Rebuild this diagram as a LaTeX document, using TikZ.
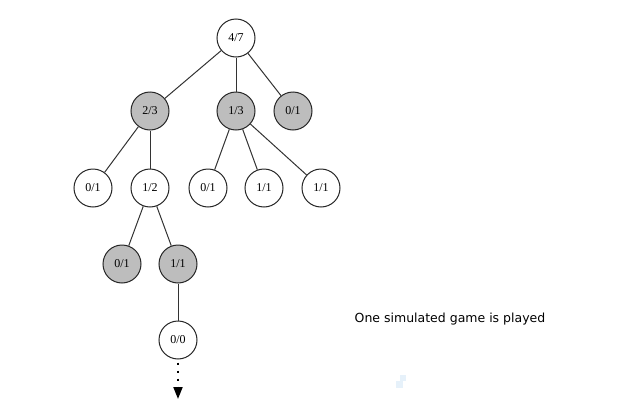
\documentclass[tikz,border=0pt]{standalone}
\usepackage{fontspec}
\setmainfont{Liberation Serif}
\newfontfamily\capfont{DejaVu Sans}
\usetikzlibrary{arrows.meta}
\definecolor{nodegray}{HTML}{BDBDBD}
\definecolor{faintblue}{HTML}{E6F1FA}
\begin{document}
\begin{tikzpicture}[x=1pt,y=-1pt,
  tnode/.style={circle,draw=black!85,line width=1pt,minimum size=38pt,inner sep=0pt,fill=white,font=\fontsize{12}{14}\selectfont},
  gnode/.style={tnode,fill=nodegray},
  edge/.style={draw=black!80,line width=1pt}]
\useasboundingbox (0,0) rectangle (641,410);
\node[tnode] (r) at (236,38) {4/7};
\node[gnode] (a) at (150,111) {2/3};
\node[gnode] (b) at (236,111) {1/3};
\node[gnode] (c) at (293,111) {0/1};
\node[tnode] (a1) at (93,188) {0/1};
\node[tnode] (a2) at (150,188) {1/2};
\node[tnode] (b1) at (208,188) {0/1};
\node[tnode] (b2) at (264,188) {1/1};
\node[tnode] (b3) at (321,188) {1/1};
\node[gnode] (d1) at (122,264) {0/1};
\node[gnode] (d2) at (178,264) {1/1};
\node[tnode] (e) at (178,340) {0/0};
\coordinate (tip) at (178,399);
\draw[edge] (r) -- (a);
\draw[edge] (r) -- (b);
\draw[edge] (r) -- (c);
\draw[edge] (a) -- (a1);
\draw[edge] (a) -- (a2);
\draw[edge] (b) -- (b1);
\draw[edge] (b) -- (b2);
\draw[edge] (b) -- (b3);
\draw[edge] (a2) -- (d1);
\draw[edge] (a2) -- (d2);
\draw[edge] (d2) -- (e);
\draw[line width=2pt,dash pattern=on 2pt off 6pt,-{Triangle[length=12pt,width=9pt]}] ([yshift=-3pt]e.south) -- (tip);
\node[font=\capfont\fontsize{12.5}{14}\selectfont,inner sep=0pt] (cap) at (450,319) {One simulated game is played};
\fill[faintblue] (396,381) rectangle (403,388);
\fill[faintblue] (400,375) rectangle (406,381);
\end{tikzpicture}
\end{document}
